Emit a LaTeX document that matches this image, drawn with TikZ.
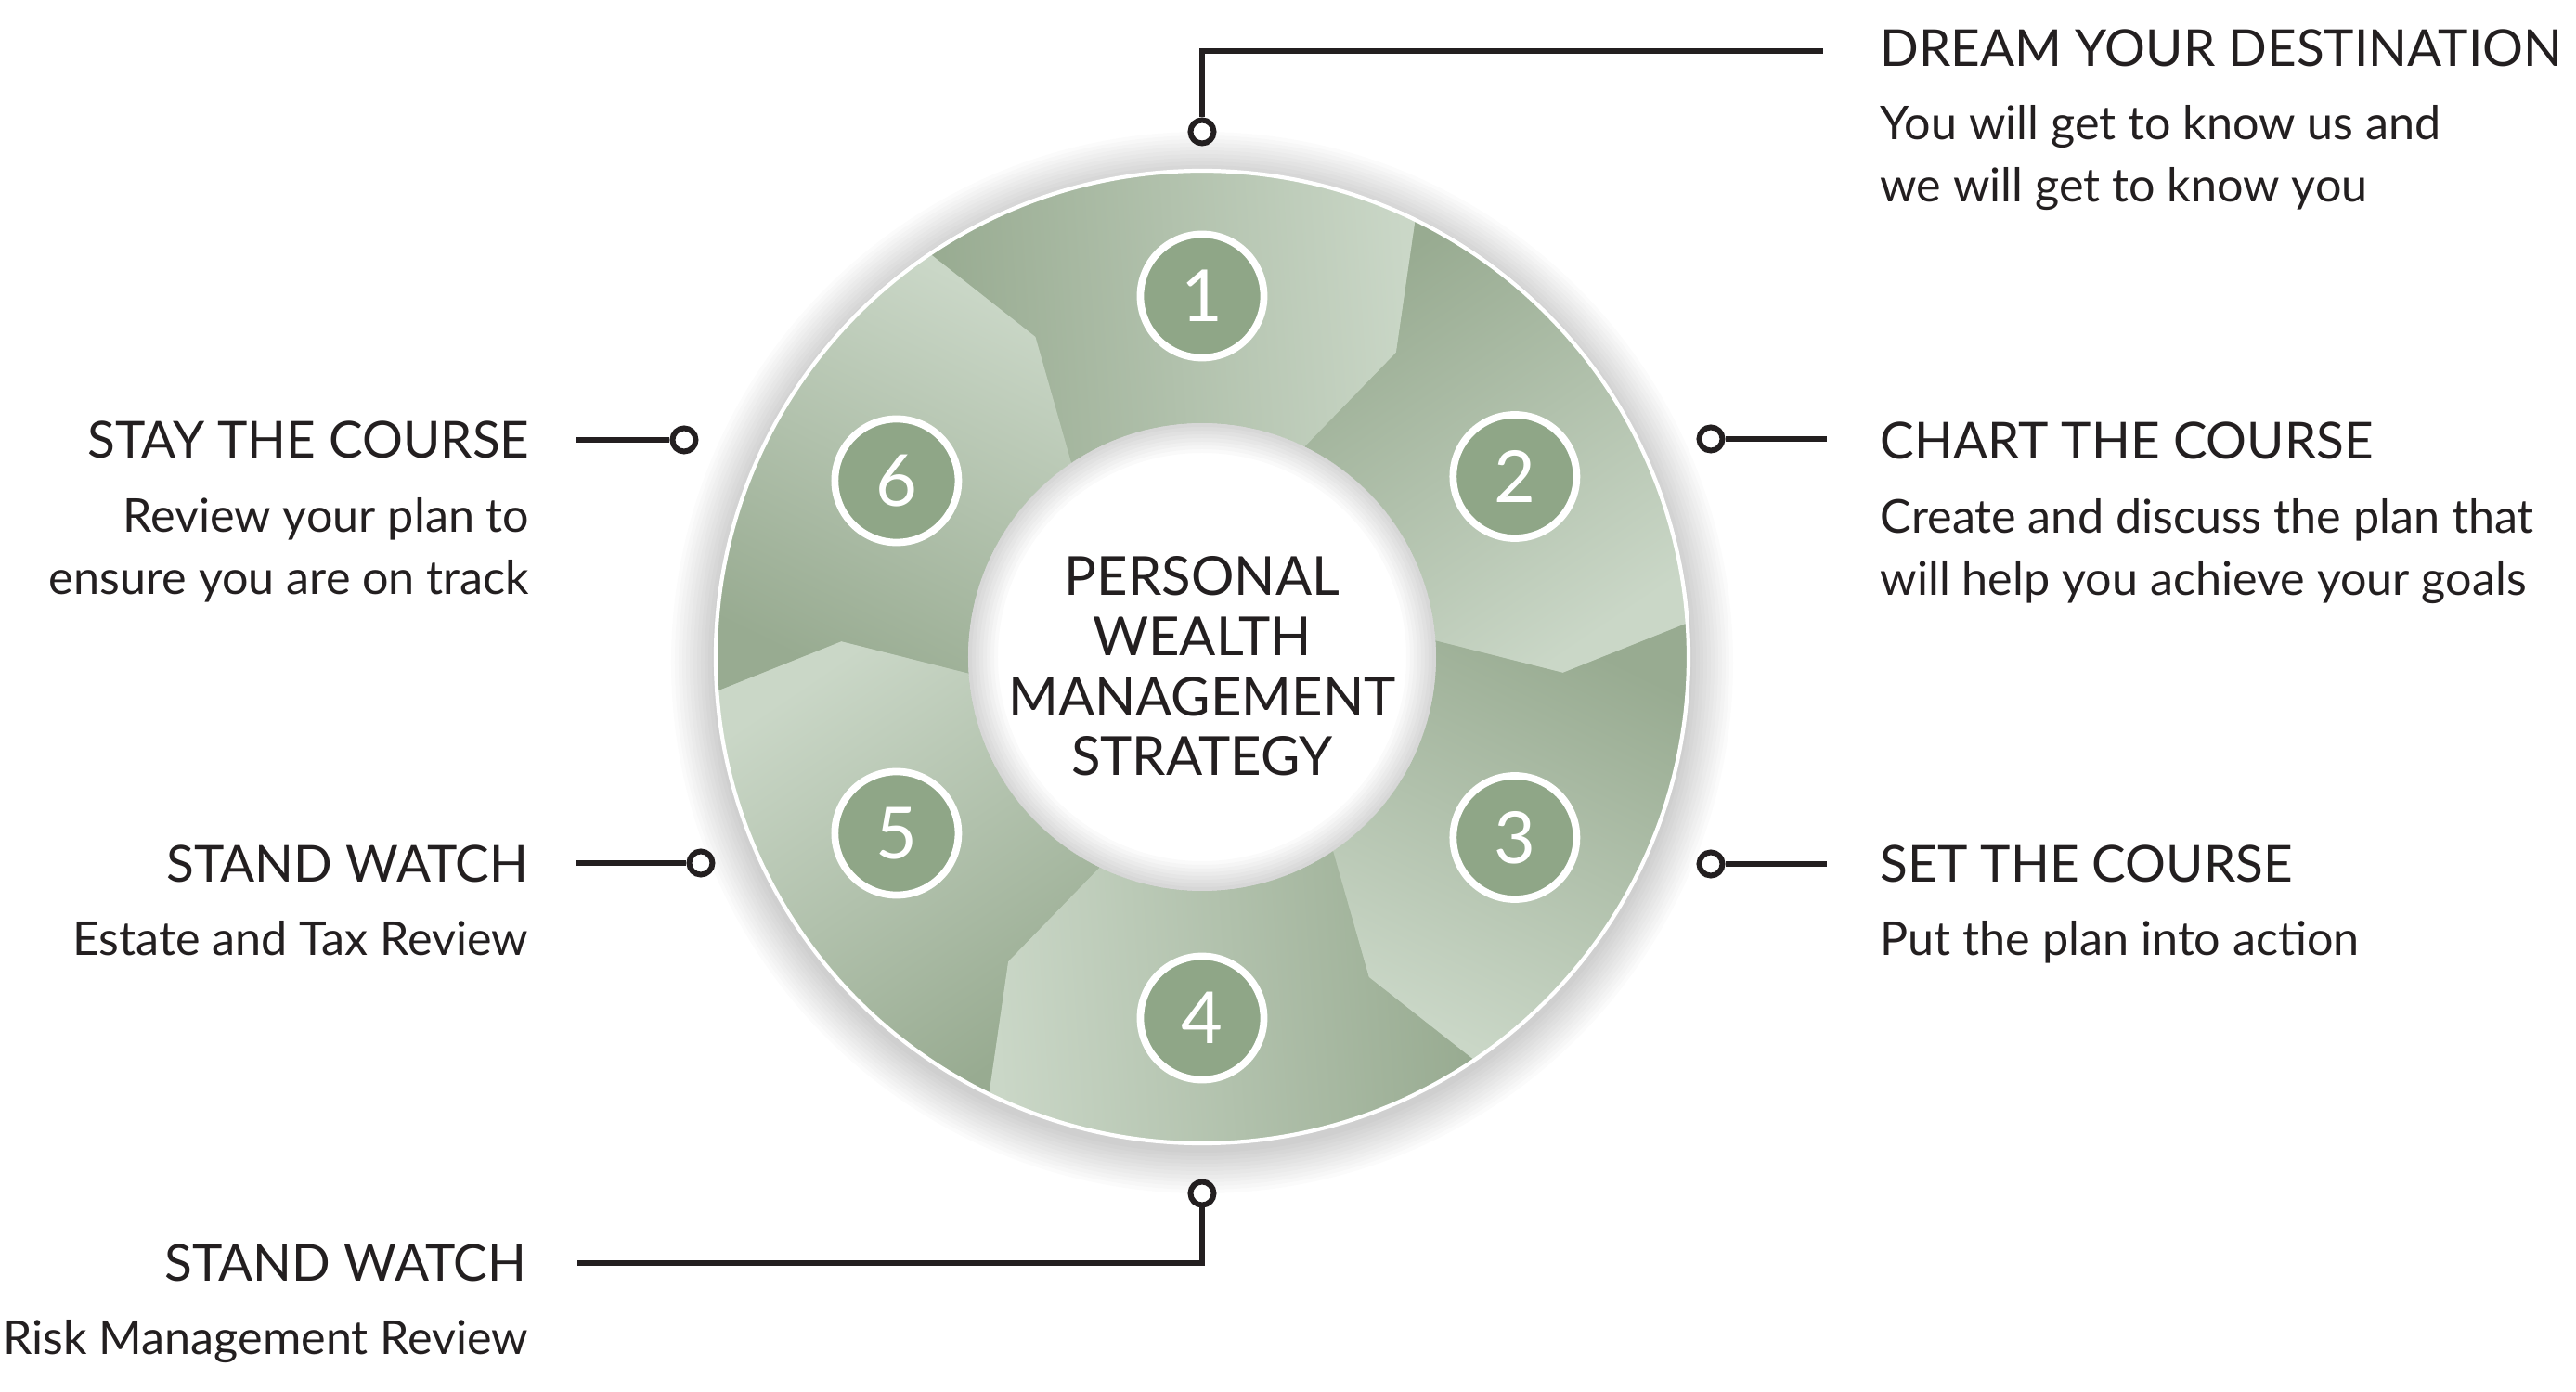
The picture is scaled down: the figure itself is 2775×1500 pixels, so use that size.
\documentclass[tikz,border=0pt]{standalone}
\usepackage{fontspec}
\setmainfont{Lato}
\usetikzlibrary{positioning,calc}
\definecolor{ink}{HTML}{231F20}
\definecolor{sagedark}{HTML}{98AB91}
\definecolor{sagelight}{HTML}{CAD7C7}
\definecolor{sagemid}{HTML}{B0C0AA}
\definecolor{sagedot}{HTML}{8FA687}

\begin{document}
\begin{tikzpicture}[x=0.01cm, y=0.01cm, font=\fontsize{15}{18}\selectfont,
  head/.style={inner sep=0pt, text=ink, font=\fontsize{15.6}{18}\selectfont},
  body/.style={inner sep=0pt, text=ink, font=\fontsize{14.3}{17}\selectfont},
  ringdot/.style={circle, draw=ink, fill=white, line width=1.7pt, minimum size=0.25cm, inner sep=0pt},
  lead/.style={draw=ink, line width=1.7pt},
  stepnum/.style={circle, fill=sagedot, draw=white, line width=2.2pt, minimum size=1.33cm,
    inner sep=0pt, text=white, font=\fontsize{22}{26}\selectfont}]
  \useasboundingbox[fill=white] (-1295,-792) rectangle (1480,708);

  % soft shadow under the ring
  \foreach \i in {1,...,12}
    \fill[black, opacity=0.016] (0,-6) circle[radius=524+4*\i];
  % base ring, then the six arrow pieces
  \fill[sagemid, even odd rule] (0,0) circle[radius=524] circle[radius=252];
  \foreach \k in {0,...,5} {
    \pgfmathsetmacro\a{124-60*\k}
    \pgfmathsetmacro\b{\a-60}
    \pgfmathsetmacro\ak{\a-6.5}
    \pgfmathsetmacro\bk{\b-6.5}
    \pgfmathsetmacro\ang{\a-210}
    \shade[shading=axis, top color=sagelight, bottom color=sagedark, shading angle=\ang]
      (\a:252) -- (\ak:389) -- (\a:524) arc[start angle=\a, end angle=\b, radius=524]
      -- (\bk:389) -- (\b:252) arc[start angle=\b, end angle=\a, radius=252] -- cycle;
  }
  \draw[white, line width=1.2pt] (0,0) circle[radius=524];
  % white centre with inner shadow
  \fill[white] (0,0) circle[radius=252];
  \foreach \i in {1,...,8}
    \fill[black, opacity=0.02, even odd rule] (0,0) circle[radius=252] circle[radius=252-4*\i];

  % numbered steps
  \node[stepnum] (s1) at (90:389) {1};
  \node[stepnum] (s2) at (30:389) {2};
  \node[stepnum] (s3) at (-30:389) {3};
  \node[stepnum] (s4) at (-90:389) {4};
  \node[stepnum] (s5) at (-150:380) {5};
  \node[stepnum] (s6) at (150:380) {6};

  \node[text=ink, align=center, font=\fontsize{16.5}{18.4}\selectfont] (core) at (0,-10)
    {PERSONAL\\WEALTH\\MANAGEMENT\\STRATEGY};

  % right side
  \node[ringdot] (dream) at (0,566) {};
  \coordinate (dreamend) at (669,653);
  \draw[lead] (dream.north) |- (dreamend);
  \node[head, anchor=base west] (dreamhead) at (730,636) {DREAM YOUR DESTINATION};
  \node[body, anchor=base west] (dreambody1) at (730,557) {You will get to know us and};
  \node[body, anchor=base west] (dreambody2) at (730,490) {we will get to know you};

  \node[ringdot] (chart) at (548,235) {};
  \coordinate (chartend) at (673,235);
  \draw[lead] (chart) -- (chartend);
  \node[head, anchor=base west] (charthead) at (730,213) {CHART THE COURSE};
  \node[body, anchor=base west] (chartbody1) at (730,133) {Create and discuss the plan that};
  \node[body, anchor=base west] (chartbody2) at (730,66) {will help you achieve your goals};

  \node[ringdot] (set) at (548,-223) {};
  \coordinate (setend) at (673,-223);
  \draw[lead] (set) -- (setend);
  \node[head, anchor=base west] (sethead) at (730,-242) {SET THE COURSE};
  \node[body, anchor=base west] (setbody) at (730,-321) {Put the plan into action};

  % left side
  \node[ringdot] (stay) at (-558,234) {};
  \coordinate (stayend) at (-674,234);
  \draw[lead] (stayend) -- (stay);
  \node[head, anchor=base east] (stayhead) at (-724,214) {STAY THE COURSE};
  \node[body, anchor=base east] (staybody1) at (-724,134) {Review your plan to};
  \node[body, anchor=base east] (staybody2) at (-724,67) {ensure you are on track};

  \node[ringdot] (estate) at (-540,-222) {};
  \coordinate (estateend) at (-674,-222);
  \draw[lead] (estateend) -- (estate);
  \node[head, anchor=base east] (estatehead) at (-725,-242) {STAND WATCH};
  \node[body, anchor=base east] (estatebody) at (-725,-321) {Estate and Tax Review};

  \node[ringdot] (risk) at (0,-578) {};
  \coordinate (riskend) at (-673,-653);
  \draw[lead] (risk.south) |- (riskend);
  \node[head, anchor=base east] (riskhead) at (-727,-672) {STAND WATCH};
  \node[body, anchor=base east] (riskbody) at (-725,-751) {Risk Management Review};
\end{tikzpicture}
\end{document}
